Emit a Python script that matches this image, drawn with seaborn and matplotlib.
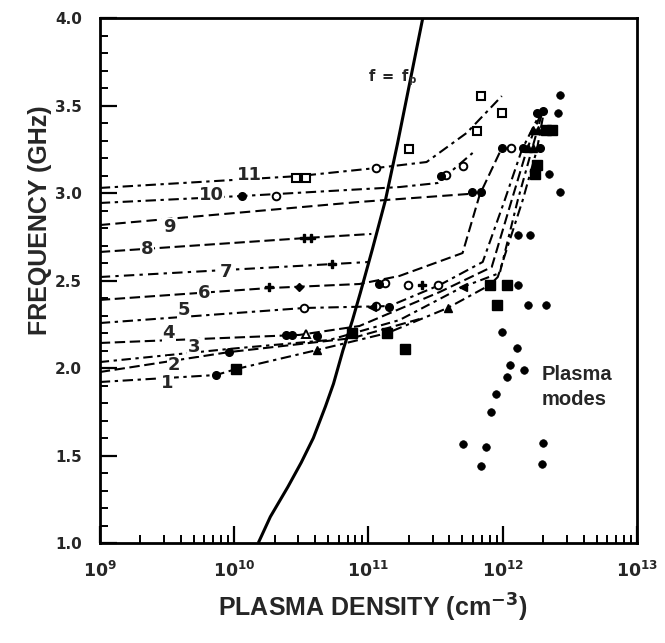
import matplotlib
matplotlib.use("Agg")
import matplotlib.pyplot as plt
import seaborn as sns
import numpy as np
from matplotlib.ticker import FixedLocator, NullFormatter

sns.set_style("ticks")
plt.rcParams['font.family'] = ['DejaVu Sans']
plt.rcParams['mathtext.fontset'] = 'dejavusans'

# ---------------- data (x as log10 of density in cm^-3, y in GHz) ----------------
fp_exp = [10.18, 10.27, 10.40, 10.50, 10.59, 10.68, 10.74, 10.81, 10.88, 10.94, 11.03, 11.127, 11.216, 11.30, 11.41]
fp_ghz = [1.00, 1.15, 1.32, 1.46, 1.60, 1.78, 1.91, 2.10, 2.27, 2.43, 2.68, 2.96, 3.28, 3.60, 4.02]

m1_exp = [9.0, 9.866, 10.015, 10.619, 11.142, 11.59, 11.903, 11.963, 12.149, 12.254, 12.306]
m1_ghz = [1.92, 1.96, 1.994, 2.103, 2.20, 2.343, 2.474, 2.52, 2.96, 3.246, 3.463]
m2_exp = [9.0, 9.963, 10.881, 11.381]
m2_ghz = [1.977, 2.091, 2.171, 2.28]
m3_exp = [9.0, 9.963, 10.709, 11.231, 11.701, 11.978, 12.112, 12.216, 12.291]
m3_ghz = [2.034, 2.109, 2.16, 2.274, 2.463, 2.543, 2.96, 3.246, 3.451]
m4_exp = [9.0, 10.485, 10.933, 11.53, 11.918, 12.067, 12.179, 12.276]
m4_ghz = [2.143, 2.189, 2.24, 2.434, 2.577, 2.96, 3.246, 3.44]
m5_exp = [9.0, 10.522, 11.157, 11.53, 11.851, 12.015, 12.142, 12.261]
m5_ghz = [2.257, 2.343, 2.354, 2.474, 2.606, 2.96, 3.246, 3.429]
m6_exp = [9.0, 10.261, 10.933, 11.231, 11.701, 11.828, 11.993]
m6_ghz = [2.389, 2.457, 2.48, 2.526, 2.657, 2.989, 3.257]
m7_exp = [9.0, 10.731, 11.007]
m7_ghz = [2.52, 2.594, 2.606]
m8_exp = [9.0, 10.537, 11.022]
m8_ghz = [2.663, 2.743, 2.766]
m9_exp = [9.0, 10.933, 11.754, 11.806]
m9_ghz = [2.817, 2.949, 2.995, 3.0]
m10_exp = [9.0, 10.06, 11.231, 11.515, 11.776]
m10_ghz = [2.943, 2.983, 3.034, 3.057, 3.229]
m11_exp = [9.0, 10.485, 11.06, 11.433, 11.731, 11.993]
m11_ghz = [3.029, 3.097, 3.143, 3.177, 3.343, 3.554]

label_text = ["1", "2", "3", "4", "5", "6", "7", "8", "9", "10", "11"]
label_exp = [9.50, 9.552, 9.701, 9.515, 9.627, 9.776, 9.94, 9.351, 9.515, 9.828, 10.112]
label_ghz = [1.914, 2.017, 2.12, 2.2, 2.331, 2.429, 2.549, 2.68, 2.806, 2.989, 3.103]

# measured points by symbol
open_sq_exp = [10.463, 10.537, 11.299, 11.806, 11.836, 11.993]
open_sq_ghz = [3.086, 3.086, 3.251, 3.354, 3.554, 3.457]
open_ci_exp = [10.313, 11.575, 11.701, 11.06, 11.127, 12.06, 10.522, 11.06, 11.291, 11.515]
open_ci_ghz = [2.983, 3.103, 3.154, 3.143, 2.486, 3.257, 2.343, 2.354, 2.474, 2.474]
fill_ci_exp = [10.06, 11.537, 11.082, 11.993, 9.866, 9.963, 10.388, 10.433, 10.619, 11.157,
               12.254, 12.30, 12.149, 12.276, 11.769, 11.836]
fill_ci_ghz = [2.983, 3.097, 2.48, 3.257, 1.96, 2.091, 2.189, 2.189, 2.183, 2.349,
               3.46, 3.468, 3.257, 3.257, 3.006, 3.006]
fill_tri_exp = [10.619, 11.59, 12.187, 12.224, 12.224, 12.261]
fill_tri_ghz = [2.103, 2.343, 3.257, 3.257, 3.36, 3.36]
open_tri_exp = [10.537]
open_tri_ghz = [2.194]
left_tri_exp = [11.701, 11.03]
left_tri_ghz = [2.463, 2.349]
plus_exp = [10.522, 10.575, 10.731, 10.261, 11.396]
plus_ghz = [2.743, 2.743, 2.594, 2.463, 2.474]
diam_exp = [10.485]
diam_ghz = [2.463]
fill_sq_exp = [10.015, 10.881, 11.142, 11.269, 11.903, 12.03, 11.955, 12.254, 12.239, 12.321, 12.366]
fill_sq_ghz = [1.994, 2.20, 2.20, 2.109, 2.474, 2.474, 2.36, 3.16, 3.109, 3.36, 3.36]

# plasma modes
plasma_exp = [12.425, 12.41, 12.425, 12.343, 12.112, 12.201, 12.112, 12.187, 12.321, 11.993,
              12.104, 12.052, 12.157, 12.03, 11.948, 11.91, 11.701, 11.873, 11.836, 12.299, 12.291]
plasma_ghz = [3.56, 3.457, 3.006, 3.109, 2.76, 2.76, 2.474, 2.36, 2.36, 2.206,
              2.114, 2.017, 1.989, 1.949, 1.851, 1.749, 1.566, 1.549, 1.44, 1.571, 1.451]

y_ticks = [1.0, 1.5, 2.0, 2.5, 3.0, 3.5, 4.0]
x_decades = [9, 10, 11, 12, 13]

# ---------------- figure ----------------
fig = plt.figure(figsize=(6.65, 6.43), dpi=100)
ax = fig.add_axes([0.150, 0.1555, 0.808, 0.8165])

def n(e):
    return [10.0 ** v for v in e]

# plasma frequency curve
ax.plot(n(fp_exp), fp_ghz, color="black", lw=2.2, solid_capstyle="butt")

modes = [(m1_exp, m1_ghz), (m2_exp, m2_ghz), (m3_exp, m3_ghz), (m4_exp, m4_ghz),
         (m5_exp, m5_ghz), (m6_exp, m6_ghz), (m7_exp, m7_ghz), (m8_exp, m8_ghz),
         (m9_exp, m9_ghz), (m10_exp, m10_ghz), (m11_exp, m11_ghz)]
styles = [(0, (5, 2.2, 1.6, 2.2)), (0, (5, 2.2)), (0, (4.5, 2.2, 1.6, 2.2)), (0, (5, 2.2)),
          (0, (5, 2.2, 1.6, 2.2)), (0, (5, 2.2)), (0, (5, 2.5, 1.6, 2.5)), (0, (5, 2.2)),
          (0, (5, 2.5)), (0, (5, 2.2, 1.6, 2.2)), (0, (5, 2.2, 1.6, 2.2))]
for (ex, gz), ls in zip(modes, styles):
    ax.plot(n(ex), gz, color="black", lw=1.5, linestyle=ls)

k = dict(color="black", linestyle="none")
ax.plot(n(open_sq_exp), open_sq_ghz, marker="s", ms=6, mfc="white", mew=1.5, **k)
ax.plot(n(open_ci_exp), open_ci_ghz, marker="o", ms=5.5, mfc="white", mew=1.4, **k)
ax.plot(n(fill_ci_exp), fill_ci_ghz, marker="o", ms=5.5, **k)
ax.plot(n(fill_tri_exp), fill_tri_ghz, marker="^", ms=6, **k)
ax.plot(n(open_tri_exp), open_tri_ghz, marker="^", ms=6, mfc="white", mew=1.4, **k)
ax.plot(n(left_tri_exp), left_tri_ghz, marker="<", ms=6, **k)
ax.plot(n(plus_exp), plus_ghz, marker="P", ms=5.5, **k)
ax.plot(n(diam_exp), diam_ghz, marker="D", ms=4.5, **k)
ax.plot(n(fill_sq_exp), fill_sq_ghz, marker="s", ms=6.5, **k)

sns.scatterplot(x=n(plasma_exp), y=plasma_ghz, ax=ax, color="black", s=30,
                marker="o", edgecolor="black", linewidth=0.5, legend=False, zorder=3)

for t, ex, gz in zip(label_text, label_exp, label_ghz):
    ax.text(10 ** ex, gz, t, fontsize=13, fontweight="bold", ha="center", va="center",
            bbox=dict(facecolor="white", edgecolor="none", pad=0.3))

ax.text(10 ** 11.18, 3.657, r"$\mathbf{f\ =\ f_p}$", fontsize=10.5, ha="center", va="center")
ax.text(10 ** 12.29, 2.02, "Plasma\nmodes", fontsize=14.5, fontweight="bold",
        family="Liberation Sans", ha="left", va="top", linespacing=1.45)

# ---------------- axes ----------------
ax.set_xscale("log")
ax.set_xlim(1e9, 1e13)
ax.set_ylim(1.0, 4.0)

ax.set_yticks(y_ticks)
ax.set_yticklabels([f"{v:.1f}" for v in y_ticks], fontsize=11, fontweight="bold")
ax.yaxis.set_minor_locator(FixedLocator([v / 10 for v in range(10, 41)]))

ax.xaxis.set_major_locator(FixedLocator([10.0 ** d for d in x_decades]))
ax.set_xticklabels([r"$\mathbf{10^{%d}}$" % d for d in x_decades], fontsize=12.5)
minor = [m * 10.0 ** d for d in x_decades[:-1] for m in range(2, 10)]
ax.xaxis.set_minor_locator(FixedLocator(minor))
ax.xaxis.set_minor_formatter(NullFormatter())

ax.tick_params(axis="both", which="major", direction="in", length=12, width=1.6,
               top=False, right=False, color="black")
ax.tick_params(axis="both", which="minor", direction="in", length=5.5, width=1.4,
               top=False, right=False, color="black")
ax.tick_params(axis="y", which="major", pad=13)
ax.tick_params(axis="x", which="major", pad=13)

for sp in ax.spines.values():
    sp.set_linewidth(2.0)
    sp.set_color("black")
    sp.set_visible(True)

fig.text(0.560, 0.055, r"PLASMA DENSITY (cm$^{\mathbf{-3}}$)", fontsize=18, fontweight="bold",
         family="Liberation Sans", ha="center", va="center")
fig.text(0.060, 0.658, "FREQUENCY (GHz)", fontsize=18, fontweight="bold",
         family="Liberation Sans", ha="center", va="center", rotation=90)

fig.savefig("out.png", dpi=100, facecolor="white")
